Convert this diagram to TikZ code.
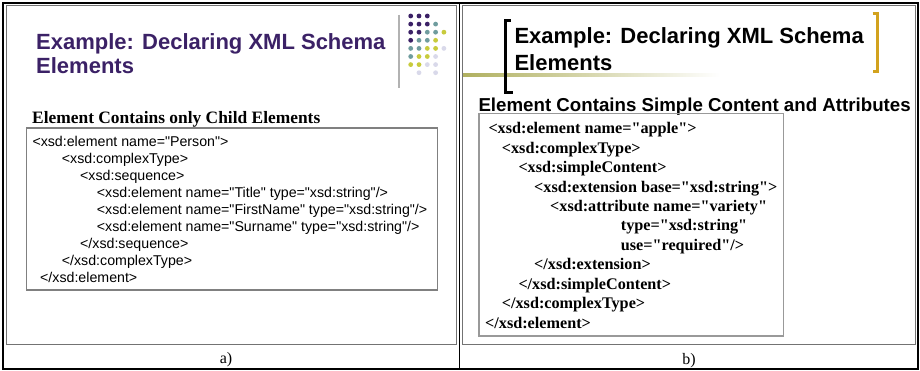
\documentclass[tikz,border=0pt]{standalone}
\usepackage{fontspec}
\setmainfont{Liberation Serif}
\setsansfont{Liberation Sans}
% code fonts without the TeX quote mapping, so " stays straight
\newfontfamily\codesans{Liberation Sans}
\newfontfamily\codeserif{Liberation Serif}
\usetikzlibrary{positioning}

\definecolor{slidepurple}{HTML}{3B2166}
\definecolor{dotteal}{HTML}{6F9C9E}
\definecolor{dotyellow}{HTML}{C8CB3C}
\definecolor{dotlilac}{HTML}{D9D9EA}
\definecolor{bracketgold}{HTML}{D2A21E}
\definecolor{ruleolive}{HTML}{B0B060}

\tikzset{
    table/.style = {
        draw=black,
        line width=1.6pt
    },
    shot/.style = {
        draw=black!55,
        line width=0.9pt
    },
    codebox/.style = {
        draw=black!40,
        line width=1.2pt
    },
    slidetitle/.style = {
        anchor=base west,
        inner sep=0pt,
        font=\sffamily\bfseries\fontsize{22}{26}\selectfont
    },
    subheadA/.style = {
        anchor=base west,
        inner sep=0pt,
        font=\rmfamily\bfseries\fontsize{17.4}{20}\selectfont
    },
    subheadB/.style = {
        anchor=base west,
        inner sep=0pt,
        font=\sffamily\bfseries\fontsize{18.7}{22}\selectfont
    },
    codeA/.style = {
        anchor=base west,
        inner sep=0pt,
        font=\codesans\fontsize{14.2}{17}\selectfont
    },
    codeB/.style = {
        anchor=base west,
        inner sep=0pt,
        font=\codeserif\bfseries\fontsize{16.2}{19}\selectfont
    },
    caption/.style = {
        anchor=base,
        inner sep=0pt,
        font=\rmfamily\fontsize{16}{18}\selectfont
    },
    bracket/.style = {
        line width=3pt,
        line cap=butt
    },
}

\begin{document}
\begin{tikzpicture}[x=1pt, y=-1pt]
    \useasboundingbox (0,0) rectangle (920,371);
    \fill[white] (0,0) rectangle (920,371);

    % two screenshots
    \draw[shot] (6.5,5.5) rectangle (456,344.5);
    \draw[shot] (462.5,5.5) rectangle (915.5,344.5);

    % left slide
    \node[slidetitle, text=slidepurple] (titleA1) at (36,50) {Example: Declaring XML Schema};
    \node[slidetitle, text=slidepurple] (titleA2) at (36,74) {Elements};
    \draw[black!30, line width=2pt] (399,15) -- (399,88);
    \foreach \r/\c/\col in {0/0/slidepurple, 0/1/slidepurple, 0/2/slidepurple,
            1/0/slidepurple, 1/1/slidepurple, 1/2/slidepurple, 1/3/dotteal,
            2/0/slidepurple, 2/1/slidepurple, 2/2/dotteal, 2/3/dotteal, 2/4/dotyellow,
            3/0/slidepurple, 3/1/dotteal, 3/2/dotteal, 3/3/dotyellow,
            4/0/dotteal, 4/1/dotteal, 4/2/dotyellow, 4/3/dotyellow, 4/4/dotlilac,
            5/0/dotteal, 5/1/dotyellow, 5/2/dotyellow, 5/3/dotlilac,
            6/0/dotyellow, 6/1/dotyellow, 6/2/dotlilac, 6/3/dotlilac,
            7/1/dotlilac, 7/3/dotlilac}
        \fill[\col] (410.7+8.3*\c, 16+8.1*\r) circle (2.4);

    \node[subheadA] (subA) at (32,124) {Element Contains only Child Elements};
    \draw[codebox, draw=black!50] (26.5,128) rectangle (437.5,290);
    \node[codeA] (codeA1) at (32.3,146.5) {<xsd:element name="Person">};
    \node[codeA] (codeA2) at (61.7,163.5) {<xsd:complexType>};
    \node[codeA] (codeA3) at (80,180.6) {<xsd:sequence>};
    \node[codeA] (codeA4) at (96.7,197.6) {<xsd:element name="Title" type="xsd:string"/>};
    \node[codeA] (codeA5) at (96.7,214.7) {<xsd:element name="FirstName" type="xsd:string"/>};
    \node[codeA] (codeA6) at (96.7,231.7) {<xsd:element name="Surname" type="xsd:string"/>};
    \node[codeA] (codeA7) at (80,248.8) {</xsd:sequence>};
    \node[codeA] (codeA8) at (61.7,265.8) {</xsd:complexType>};
    \node[codeA] (codeA9) at (40,282.9) {</xsd:element>};

    % right slide
    \shade[left color=ruleolive, right color=white] (463,73.5) rectangle (720,76.5);
    \draw[bracket] (510.5,20.5) -- (505.5,20.5) -- (505.5,92.5) -- (513,92.5);
    \draw[bracket, bracketgold] (872.5,13.5) -- (877.5,13.5) -- (877.5,71.5) -- (872.5,71.5);
    \node[slidetitle] (titleB1) at (514.3,43.5) {Example: Declaring XML Schema};
    \node[slidetitle] (titleB2) at (514.3,71) {Elements};

    \node[subheadB] (subB) at (478.3,112) {Element Contains Simple Content and Attributes};
    \draw[codebox] (479,113.5) rectangle (783.5,336);
    \node[codeB] (codeB1) at (488.3,134) {<xsd:element name="apple">};
    \node[codeB] (codeB2) at (501.7,153.4) {<xsd:complexType>};
    \node[codeB] (codeB3) at (518.3,172.8) {<xsd:simpleContent>};
    \node[codeB] (codeB4) at (534,192.2) {<xsd:extension base="xsd:string">};
    \node[codeB] (codeB5) at (550,211.6) {<xsd:attribute name="variety"};
    \node[codeB] (codeB6) at (620.7,231) {type="xsd:string"};
    \node[codeB] (codeB7) at (620.7,250.4) {use="required"/>};
    \node[codeB] (codeB8) at (534,269.8) {</xsd:extension>};
    \node[codeB] (codeB9) at (518.3,289.2) {</xsd:simpleContent>};
    \node[codeB] (codeB10) at (501.7,308.6) {</xsd:complexType>};
    \node[codeB] (codeB11) at (485,328) {</xsd:element>};

    % table round both parts
    \draw[table] (3,3) rectangle (918,369);
    \draw[table] (459.5,3) -- (459.5,369);
    \node[caption] (capA) at (226,363) {a)};
    \node[caption] (capB) at (689,364) {b)};
\end{tikzpicture}
\end{document}
